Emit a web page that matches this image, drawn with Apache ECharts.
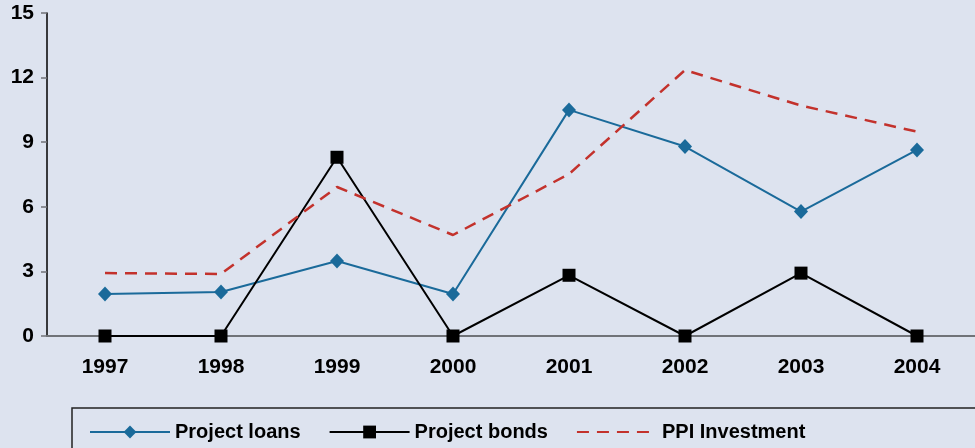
<!DOCTYPE html>
<html>
<head>
<meta charset="utf-8">
<script src="https://cdn.jsdelivr.net/npm/echarts@6/dist/echarts.min.js"></script>
<style>
  html, body { margin: 0; padding: 0; background: #dde3ef; }
  #main { width: 975px; height: 448px; }
</style>
</head>
<body>
<div id="main"></div>
<script>
  // categories and values
  const years = ['1997', '1998', '1999', '2000', '2001', '2002', '2003', '2004'];
  const projectLoans = [1.95, 2.04, 3.48, 1.95, 10.5, 8.8, 5.78, 8.64];
  const projectBonds = [0, 0, 8.3, 0, 2.82, 0, 2.92, 0];
  const ppiInvestment = [2.92, 2.88, 6.92, 4.69, 7.52, 12.35, 10.7, 9.49];
  const yTicks = [0, 3, 6, 9, 12, 15];

  const fontFamily = '"Liberation Sans", Arial, Helvetica, sans-serif';

  let myChart = echarts.init(document.getElementById('main'));

  const option = {
    backgroundColor: '#dde3ef',
    animation: false,
    textStyle: { fontFamily: fontFamily },
    grid: { left: 47, right: 0, top: 13, bottom: 112 },
    legend: {
      left: 84,
      top: 417,
      itemWidth: 80,
      itemHeight: 16,
      itemGap: 28,
      textStyle: { fontSize: 20, fontWeight: 'bold', color: '#000', fontFamily: fontFamily },
      data: [
        'Project loans',
        'Project bonds',
        { name: 'PPI Investment', itemStyle: { opacity: 0 } }
      ]
    },
    graphic: [{
      type: 'rect',
      shape: { x: 72, y: 408, width: 920, height: 60 },
      style: { fill: 'none', stroke: '#222', lineWidth: 1.5 },
      silent: true
    }],
    xAxis: {
      type: 'category',
      data: years,
      boundaryGap: true,
      axisLine: { lineStyle: { color: '#707378', width: 2 } },
      axisTick: { show: false },
      axisLabel: { margin: 21, fontSize: 21, fontWeight: 'bold', color: '#000' }
    },
    yAxis: {
      type: 'value',
      min: yTicks[0],
      max: yTicks[yTicks.length - 1],
      interval: 3,
      splitLine: { show: false },
      axisLine: { show: true, lineStyle: { color: '#000', width: 1.5 } },
      axisTick: { show: true, length: 6, lineStyle: { color: '#707378', width: 1.5 } },
      axisLabel: { margin: 13, fontSize: 21, fontWeight: 'bold', color: '#000' }
    },
    series: [
      {
        name: 'Project loans',
        type: 'line',
        data: projectLoans,
        symbol: 'diamond',
        symbolSize: [14, 15],
        itemStyle: { color: '#1a6a9a' },
        lineStyle: { color: '#1a6a9a', width: 2 }
      },
      {
        name: 'Project bonds',
        type: 'line',
        data: projectBonds,
        symbol: 'rect',
        symbolSize: 13,
        itemStyle: { color: '#000' },
        lineStyle: { color: '#000', width: 2 }
      },
      {
        name: 'PPI Investment',
        type: 'line',
        data: ppiInvestment,
        symbol: 'none',
        itemStyle: { color: '#c3322c' },
        lineStyle: { color: '#c3322c', width: 2.5, type: [12, 8] }
      }
    ]
  };

  myChart.setOption(option);
</script>
</body>
</html>
